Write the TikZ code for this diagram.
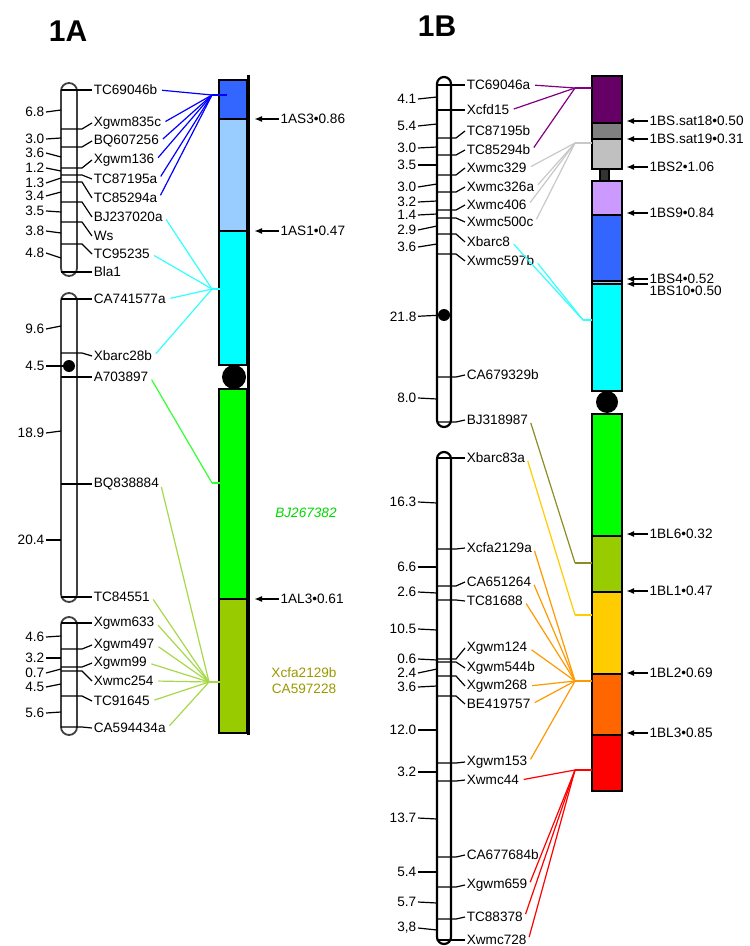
\documentclass[tikz,border=0pt]{standalone}
\usepackage{fontspec}
\setmainfont{Liberation Sans}
\usepackage{tikz}
\usetikzlibrary{arrows.meta,positioning,calc}
\definecolor{binBlue}{HTML}{3366FF}
\definecolor{binSky}{HTML}{99CCFF}
\definecolor{binCyan}{HTML}{00FFFF}
\definecolor{binGreen}{HTML}{00FF00}
\definecolor{binLime}{HTML}{99CC00}
\definecolor{binPurple}{HTML}{660066}
\definecolor{binGrey}{HTML}{808080}
\definecolor{binSilver}{HTML}{C0C0C0}
\definecolor{binStalk}{HTML}{333333}
\definecolor{binLilac}{HTML}{CC99FF}
\definecolor{binGold}{HTML}{FFCC00}
\definecolor{binOrange}{HTML}{FF6600}
\definecolor{binRed}{HTML}{FF0000}
\definecolor{lnBlue}{HTML}{0000FF}
\definecolor{lnCyan}{HTML}{33FFFF}
\definecolor{lnGreen}{HTML}{33FF33}
\definecolor{lnLime}{HTML}{A6D84A}
\definecolor{lnPurple}{HTML}{800080}
\definecolor{lnSilver}{HTML}{C8C8C8}
\definecolor{lnOlive}{HTML}{8C8C26}
\definecolor{lnGold}{HTML}{FFCC00}
\definecolor{lnOrange}{HTML}{FF9900}
\definecolor{lnRed}{HTML}{FF0000}
\definecolor{txOlive}{HTML}{999900}
\tikzset{
  chrtitle/.style={font=\fontsize{15}{17}\selectfont\bfseries, inner sep=0pt},
  mk/.style={anchor=west, inner sep=0.6pt, font=\fontsize{6.8}{7}\selectfont},
  num/.style={anchor=east, inner sep=0.6pt, font=\fontsize{6.8}{7}\selectfont},
  bin/.style={anchor=west, inner sep=0.6pt, font=\fontsize{6.8}{7}\selectfont},
  mtick/.style={draw=black, line width=0.6pt},
  lgA/.style={draw=black!75, line width=0.9pt, rounded corners=4pt, fill=white},
  lgB/.style={draw=black, line width=1.1pt, rounded corners=3.5pt, fill=white},
  seg/.style={draw=black, line width=0.7pt, fill=#1},
  segB/.style={draw=black, line width=1pt, fill=#1},
  cendot/.style={circle, fill=black, inner sep=0pt, minimum size=#1},
  spoke/.style={draw=#1, line width=0.6pt, shorten <=1.5pt},
  hubline/.style={draw=#1, line width=0.6pt},
  binarr/.style={-{Latex[length=4pt,width=3pt]}, line width=1pt},
}

\begin{document}
\begin{tikzpicture}[x=0.5pt, y=-0.5pt]
\useasboundingbox (0,0) rectangle (749,946);

% titles
\node[chrtitle] (t1a) at (68,31) {1A};
\node[chrtitle] (t1b) at (437,26) {1B};

% 1A linkage map, first group
\draw[lgA] (61,83) rectangle (77,276);
\foreach \my/\ly/\t in {90/90/TC69046b, 129/123/Xgwm835c, 147/141/BQ607256, 168/160/Xgwm136, 175/179/TC87195a, 182/198/TC85294a, 202/217/BJ237020a, 222/236/Ws, 244/254/TC95235, 272/272/Bla1}
  \draw[mtick] (61,\my) -- (82,\my) -- (92,\ly) node[mk] (\t) {\t};
\foreach \ly/\my/\t [count=\i] in {112/110/6.8, 139/138/3.0, 153/157/3.6, 168/171/1.2, 183/178/1.3, 196/192/3.4, 211/212/3.5, 231/233/3.8, 253/258/4.8}
  \draw[mtick] (46,\ly) node[num] (a1n\i) {\t} -- (61,\my);

% 1A linkage map, second group
\draw[lgA] (61,293) rectangle (77,602);
\foreach \my/\ly/\t in {299/299/CA741577a, 353/356/Xbarc28b, 377/377/A703897, 484/484/BQ838884, 597/597/TC84551}
  \draw[mtick] (61,\my) -- (82,\my) -- (92,\ly) node[mk] (\t) {\t};
\node[cendot=6pt] (cenA) at (69,366) {};
\foreach \ly/\my/\t [count=\i] in {329/326/9.6, 433/431/18.9, 540/540/20.4}
  \draw[mtick] (46,\ly) node[num] (a2n\i) {\t} -- (61,\my);
\node[num] (a2c) at (46,366) {4.5};
\draw[mtick] (a2c) -- (cenA);

% 1A linkage map, third group
\draw[lgA] (61,617) rectangle (77,735);
\foreach \my/\ly/\t in {623/623/Xgwm633, 649/645/Xgwm497, 667/663/Xgwm99, 671/681/Xwmc254, 696/701/TC91645, 727/728/CA594434a}
  \draw[mtick] (61,\my) -- (82,\my) -- (92,\ly) node[mk] (\t) {\t};
\foreach \ly/\my/\t [count=\i] in {637/636/4.6, 658/658/3.2, 673/669/0.7, 687/684/4.5, 713/712/5.6}
  \draw[mtick] (46,\ly) node[num] (a3n\i) {\t} -- (61,\my);

% 1A deletion bins
\draw[seg=binBlue] (219,80) rectangle (247,119);
\draw[seg=binSky] (219,119) rectangle (247,231);
\draw[seg=binCyan] (219,231) rectangle (247,365);
\node[cendot=12pt] (cen1A) at (234,377) {};
\draw[seg=binGreen] (219,389) rectangle (247,599);
\draw[seg=binLime] (219,599) rectangle (247,733);
\draw[line width=1.5pt] (248.5,75) -- (248.5,735);

\foreach \y/\t/\n in {119/1AS3•0.86/as3, 231/1AS1•0.47/as1, 599/1AL3•0.61/al3}{
  \node[bin] (\n) at (279,\y) {\t};
  \draw[binarr] (\n.west) -- +(-25,0);
}
\node[font=\fontsize{6.8}{7}\selectfont\itshape, text=binGreen!85!black, inner sep=0pt] (bj267) at (306,513) {BJ267382};
\node[font=\fontsize{6.8}{8}\selectfont, text=txOlive, align=center, inner sep=0pt] (xcfab) at (304,681) {Xcfa2129b\\ CA597228};

% 1A spokes
\coordinate (hubA1) at (212,95);
\foreach \n in {TC69046b,Xgwm835c,BQ607256,Xgwm136,TC87195a,TC85294a}
  \draw[spoke=lnBlue] (\n.east) -- (hubA1);
\draw[hubline=lnBlue] (hubA1) -- ++(15,0);
\coordinate (hubA2) at (212,289);
\foreach \n in {BJ237020a,TC95235,CA741577a,Xbarc28b}
  \draw[spoke=lnCyan] (\n.east) -- (hubA2);
\draw[hubline=lnCyan] (hubA2) -- ++(8,0);
\coordinate (hubA3) at (212,483);
\draw[spoke=lnGreen] (A703897.east) -- (hubA3);
\draw[hubline=lnGreen] (hubA3) -- ++(8,0);
\coordinate (hubA4) at (209,682);
\foreach \n in {BQ838884,TC84551,Xgwm633,Xgwm497,Xgwm99,Xwmc254,TC91645,CA594434a}
  \draw[spoke=lnLime] (\n.east) -- (hubA4);
\draw[hubline=lnLime] (hubA4) -- ++(11,0);

% 1B linkage map, first group
\draw[lgB] (437,77) rectangle (451,427);
\foreach \my/\ly/\t in {85/85/TC69046a, 110/110/Xcfd15, 138/131/TC87195b, 155/150/TC85294b, 175/168/Xwmc329, 192/187/Xwmc326a, 210/205/Xwmc406, 218/222/Xwmc500c, 234/242/Xbarc8, 254/261/Xwmc597b, 377/375/CA679329b, 422/420/BJ318987}
  \draw[mtick] (437,\my) -- (456,\my) -- (465,\ly) node[mk] (\t) {\t};
\node[cendot=6pt] (cenB) at (444,315) {};
\foreach \ly/\my/\t [count=\i] in {99/97/4.1, 126/124/5.4, 148/147/3.0, 165/165/3.5, 187/184/3.0, 202/201/3.2, 215/214/1.4, 230/226/2.9, 247/244/3.6, 398/399/8.0}
  \draw[mtick] (418,\ly) node[num] (b1n\i) {\t} -- (437,\my);
\node[num] (b1c) at (418,317) {21.8};
\draw[mtick] (b1c) -- (cenB);

% 1B linkage map, second group
\draw[lgB] (437,452) rectangle (451,944);
\foreach \my/\ly/\t in {458/458/Xbarc83a, 549/548/Xcfa2129a, 586/582/CA651264, 600/601/TC81688, 659/648/Xgwm124, 662/668/Xgwm544b, 676/686/Xgwm268, 696/704/BE419757, 763/762/Xgwm153, 781/780/Xwmc44, 857/855/CA677684b, 887/885/Xgwm659, 919/917/TC88378, 940/940/Xwmc728}
  \draw[mtick] (437,\my) -- (456,\my) -- (465,\ly) node[mk] (\t) {\t};
\foreach \ly/\my/\t [count=\i] in {502/503/16.3, 567/567/6.6, 592/593/2.6, 629/630/10.5, 659/660/0.6, 673/669/2.4, 687/686/3.6, 730/730/12.0, 772/772/3.2, 818/819/13.7, 872/872/5.4, 902/903/5.7}
  \draw[mtick] (418,\ly) node[num] (b2n\i) {\t} -- (437,\my);
\draw[mtick] (418,928) node[num] (b2n13) {3,8} -- (437,930);

% 1B deletion bins
\draw[segB=binPurple] (592,76) rectangle (622,123);
\draw[segB=binGrey] (592,123) rectangle (622,139);
\draw[segB=binSilver] (592,139) rectangle (622,169);
\draw[segB=binStalk] (600,169) rectangle (609,181);
\draw[segB=binLilac] (592,181) rectangle (622,215);
\draw[segB=binBlue] (592,215) rectangle (622,281);
\draw[segB=binSky] (592,281) rectangle (622,284);
\draw[segB=binCyan] (592,284) rectangle (622,391);
\node[cendot=11pt] (cen1B) at (607,402) {};
\draw[segB=binGreen] (592,414) rectangle (622,536);
\draw[segB=binLime] (592,536) rectangle (622,592);
\draw[segB=binGold] (592,592) rectangle (622,674);
\draw[segB=binOrange] (592,674) rectangle (622,735);
\draw[segB=binRed] (592,735) rectangle (622,791);

\foreach \y/\t/\n in {121/1BS.sat18•0.50/bss18, 139/1BS.sat19•0.31/bss19, 167/1BS2•1.06/bs2, 213/1BS9•0.84/bs9, 279/1BS4•0.52/bs4, 534/1BL6•0.32/bl6, 591/1BL1•0.47/bl1, 673/1BL2•0.69/bl2, 733/1BL3•0.85/bl3}{
  \node[bin] (\n) at (648,\y) {\t};
  \draw[binarr] (\n.west) -- +(-22,0);
}
\node[bin] (bs10) at (648,291) {1BS10•0.50};
\draw[binarr] ([yshift=3.5pt]bs10.west) -- +(-22,0);

% 1B spokes
\coordinate (hubB1) at (575,88);
\foreach \n in {TC69046a,Xcfd15,TC85294b}
  \draw[spoke=lnPurple] (\n.east) -- (hubB1);
\draw[hubline=lnPurple] (hubB1) -- ++(17,0);
\coordinate (hubB2) at (575,143);
\foreach \n in {Xwmc329,Xwmc326a,Xwmc406,Xwmc500c}
  \draw[spoke=lnSilver] (\n.east) -- (hubB2);
\draw[hubline=lnSilver] (hubB2) -- ++(17,0);
\coordinate (hubB3) at (583,320);
\foreach \n in {Xbarc8,Xwmc597b}
  \draw[spoke=lnCyan] (\n.east) -- (hubB3);
\draw[hubline=lnCyan] (hubB3) -- ++(9,0);
\coordinate (hubB4) at (575,563);
\draw[spoke=lnOlive] (BJ318987.east) -- (hubB4);
\draw[hubline=lnOlive] (hubB4) -- ++(17,0);
\coordinate (hubB5) at (575,615);
\draw[spoke=lnGold] (Xbarc83a.east) -- (hubB5);
\draw[hubline=lnGold] (hubB5) -- ++(17,0);
\coordinate (hubB6) at (575,681);
\foreach \n in {Xcfa2129a,CA651264,TC81688,Xgwm124,Xgwm268,BE419757,Xgwm153}
  \draw[spoke=lnOrange] (\n.east) -- (hubB6);
\draw[hubline=lnOrange] (hubB6) -- ++(17,0);
\coordinate (hubB7) at (575,770);
\foreach \n in {Xwmc44,Xgwm659,TC88378,Xwmc728}
  \draw[spoke=lnRed] (\n.east) -- (hubB7);
\draw[hubline=lnRed] (hubB7) -- ++(17,0);
\end{tikzpicture}
\end{document}
